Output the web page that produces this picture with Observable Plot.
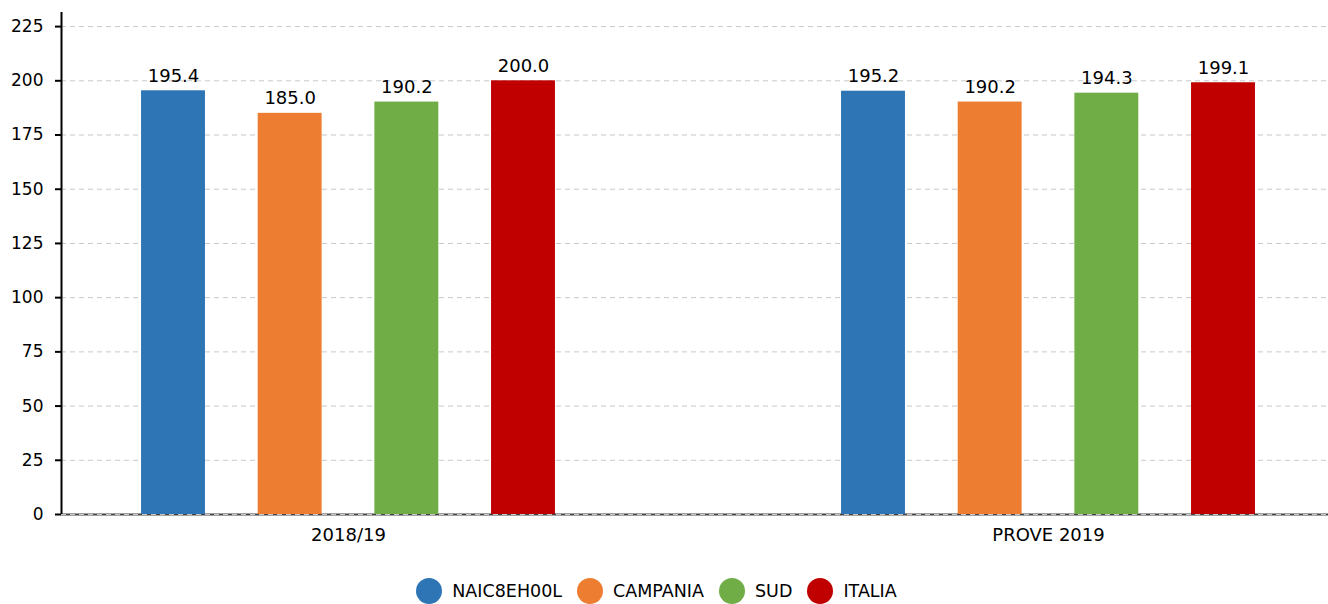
<!DOCTYPE html>
<html>
<head>
<meta charset="utf-8">
<script src="https://cdn.jsdelivr.net/npm/d3@7"></script>
<script src="https://cdn.jsdelivr.net/npm/@observablehq/plot@0.6"></script>
<style>
  html, body { margin: 0; padding: 0; background: #fff; }
  body { width: 1328px; height: 604px; overflow: hidden; font-family: "DejaVu Sans", sans-serif; color: #000; }
  #legend { display: flex; justify-content: center; align-items: center; margin-top: 18px; padding-right: 15px; font-size: 17.5px; }
  .item { display: flex; align-items: center; margin: 0 7.5px; }
  .dot { width: 26px; height: 26px; border-radius: 50%; margin-right: 10px; }
</style>
</head>
<body>
<div id="chart"></div>
<div id="legend"></div>
<script>
const groups = ["2018/19", "PROVE 2019"];
const series = ["NAIC8EH00L", "CAMPANIA", "SUD", "ITALIA"];
const colors = ["#2e75b6", "#ed7d31", "#70ad47", "#c00000"];
const values2018 = [195.4, 185.0, 190.2, 200.0];
const values2019 = [195.2, 190.2, 194.3, 199.1];
const yTicks = [0, 25, 50, 75, 100, 125, 150, 175, 200, 225];

const groupValues = [values2018, values2019];
const groupGap = 6;          // slots between group starts
const halfBar = 0.274;       // half bar width in slot units
const xDomain = [-0.96, 9.9];

const data = [];
groups.forEach((g, gi) => {
  series.forEach((s, si) => {
    data.push({group: g, series: s, value: groupValues[gi][si], pos: gi * groupGap + si});
  });
});
const groupCenters = groups.map((g, gi) => gi * groupGap + (series.length - 1) / 2);

const chart = Plot.plot({
  width: 1328,
  height: 560,
  marginTop: 12,
  marginBottom: 46,
  marginLeft: 61,
  marginRight: 0,
  style: {fontFamily: "DejaVu Sans, sans-serif", fontSize: "17px", color: "#000", background: "#fff"},
  x: {domain: xDomain, axis: null},
  y: {domain: [0, 231.5], axis: null},
  color: {domain: series, range: colors},
  marks: [
    Plot.ruleY([0], {stroke: "#444", strokeWidth: 2}),
    Plot.gridY(yTicks, {stroke: "#c8c8c8", strokeOpacity: 1, strokeWidth: 1, strokeDasharray: "5,4"}),
    Plot.rect(data, {x1: d => d.pos - halfBar, x2: d => d.pos + halfBar, y1: () => 0, y2: "value", fill: "series"}),
    Plot.text(data, {x: "pos", y: "value", text: d => d.value.toFixed(1), dy: -9, lineAnchor: "bottom", fontSize: 18, fill: "#000"}),
    Plot.ruleX([xDomain[0]], {stroke: "#000", strokeWidth: 2}),
    Plot.axisY(yTicks, {tickSize: 6, tickPadding: 12, strokeWidth: 2, stroke: "#000", fontSize: 17, label: null}),
    Plot.axisX(groupCenters, {tickFormat: (d, i) => groups[i], tickSize: 0, tickPadding: 14, fontSize: 18, label: null})
  ]
});
document.getElementById("chart").appendChild(chart);

const legend = document.getElementById("legend");
series.forEach((s, i) => {
  const item = document.createElement("div");
  item.className = "item";
  const dot = document.createElement("span");
  dot.className = "dot";
  dot.style.background = colors[i];
  const label = document.createElement("span");
  label.textContent = s;
  item.appendChild(dot);
  item.appendChild(label);
  legend.appendChild(item);
});
</script>
</body>
</html>
